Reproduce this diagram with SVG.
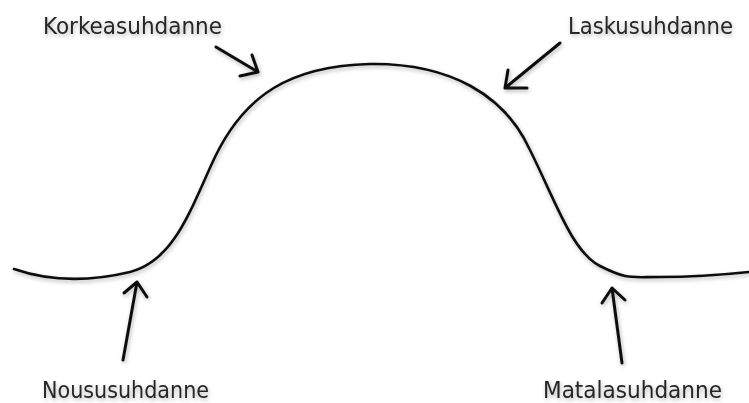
<svg xmlns="http://www.w3.org/2000/svg" width="749" height="403" viewBox="0 0 749 403">
  <defs>
    <filter id="sh" x="-10%" y="-10%" width="120%" height="130%">
      <feGaussianBlur in="SourceAlpha" stdDeviation="2"/>
      <feOffset dx="1" dy="2" result="b"/>
      <feComponentTransfer><feFuncA type="linear" slope="0.3"/></feComponentTransfer>
      <feMerge><feMergeNode/><feMergeNode in="SourceGraphic"/></feMerge>
    </filter>
  </defs>
  <style>
    .lbl { font-family: "DejaVu Sans", "Liberation Sans", sans-serif; font-stretch: condensed; font-size: 23px; fill: #262626; }
    .ln { fill: none; stroke: #111; stroke-width: 3; stroke-linecap: round; stroke-linejoin: round; }
    .curve { fill: none; stroke: #111; stroke-width: 2.6; stroke-linecap: round; }
  </style>
  <rect width="749" height="403" fill="#fff"/>
  <g id="curve" filter="url(#sh)">
    <path class="curve" d="M14,269 C40,278 80,284 130,272 C175,260 190,210 215,157 C245,95 290,66 370,64 C450,63 505,95 530,150 C555,200 572,252 600,266 S630,277 660,277 C700,277 730,274 749,272"/>
  </g>
  <g id="connectors" filter="url(#sh)">
    <path class="ln" d="M216,47 L258,72 M252,55 L258,72 L240,76"/>
    <path class="ln" d="M560,43 L505,88 M508,70 L505,88 L527,88"/>
    <path class="ln" d="M123,360 L137,282 M124,293 L137,282 L147,297"/>
    <path class="ln" d="M622,363 L612,288 M602,303 L612,288 L625,300"/>
  </g>
  <g id="korkeasuhdanne" filter="url(#sh)">
    <text class="lbl" x="43" y="34" textLength="179" lengthAdjust="spacingAndGlyphs">Korkeasuhdanne</text>
  </g>
  <g id="laskusuhdanne" filter="url(#sh)">
    <text class="lbl" x="568" y="34" textLength="165" lengthAdjust="spacingAndGlyphs">Laskusuhdanne</text>
  </g>
  <g id="noususuhdanne" filter="url(#sh)">
    <text class="lbl" x="42" y="398" textLength="167" lengthAdjust="spacingAndGlyphs">Noususuhdanne</text>
  </g>
  <g id="matalasuhdanne" filter="url(#sh)">
    <text class="lbl" x="543" y="398" textLength="179" lengthAdjust="spacingAndGlyphs">Matalasuhdanne</text>
  </g>
</svg>
